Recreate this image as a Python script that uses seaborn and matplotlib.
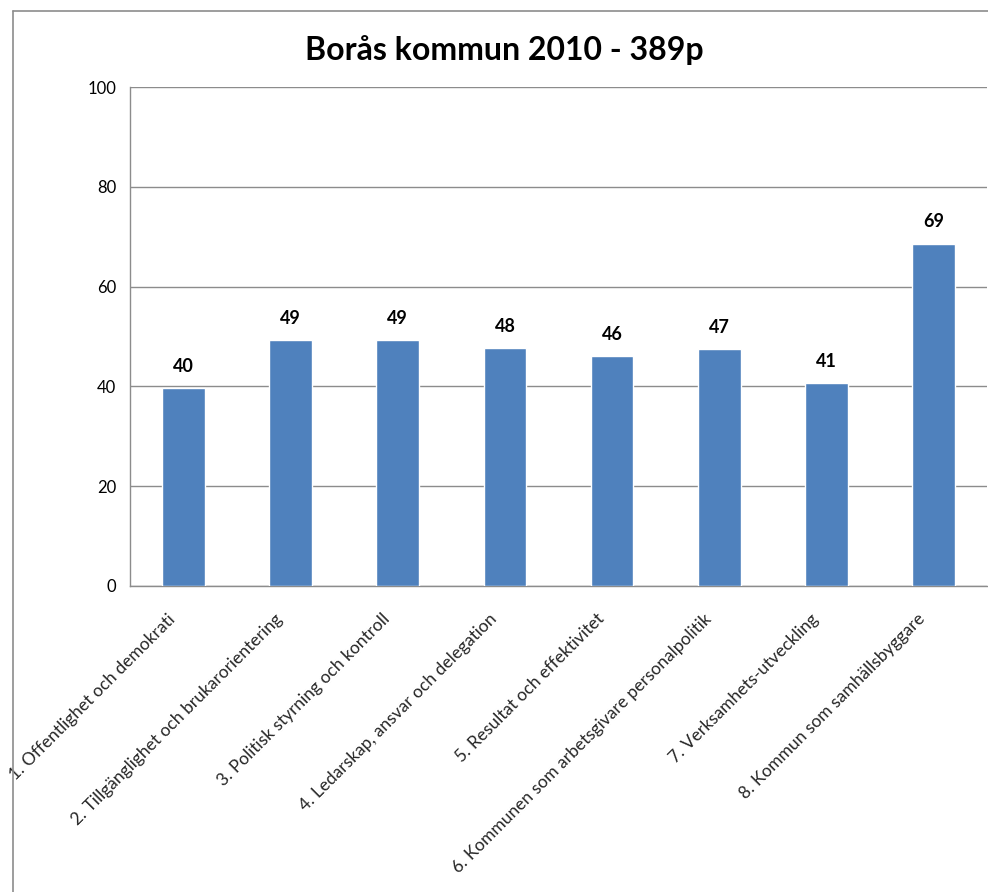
import matplotlib
matplotlib.use("Agg")
import matplotlib.pyplot as plt
import matplotlib.transforms as mtransforms
import seaborn as sns
import pandas as pd
from matplotlib.lines import Line2D

categories = [
    "1. Offentlighet och demokrati",
    "2. Tillgänglighet och brukarorientering",
    "3. Politisk styrning och kontroll",
    "4. Ledarskap, ansvar och delegation",
    "5. Resultat och effektivitet",
    "6. Kommunen som arbetsgivare personalpolitik",
    "7. Verksamhets-utveckling",
    "8. Kommun som samhällsbyggare",
]
values = [39.6, 49.2, 49.2, 47.6, 46.0, 47.4, 40.6, 68.6]
yticks = [0, 20, 40, 60, 80, 100]
title = "Borås kommun 2010 - 389p"

df = pd.DataFrame({"kategori": categories, "poang": values})

sns.set_theme(style="white")
plt.rcParams["font.family"] = ["Lato", "DejaVu Sans"]

fig = plt.figure(figsize=(9.88, 8.92), dpi=100)
ax = fig.add_axes([130 / 988, 306 / 892, 857 / 988, 499 / 892])

sns.barplot(data=df, x="kategori", y="poang", color="#4F81BD", width=0.4,
            saturation=1, ax=ax, zorder=3)

ax.set_ylim(0, 100)
ax.set_xlim(-0.5, len(categories) - 0.5)
ax.set_yticks(yticks)
ax.set_yticklabels([str(t) for t in yticks], fontsize=12, color="#000000")
ax.yaxis.grid(True, color="#8c8c8c", linewidth=1.0, zorder=0)
ax.set_axisbelow(True)
ax.set_xlabel("")
ax.set_ylabel("")

ax.set_xticks(range(len(categories)))
ax.set_xticklabels(categories, rotation=45, ha="right", fontsize=12.5,
                   rotation_mode="default")
ax.tick_params(axis="x", which="major", length=0, pad=18)
shift = mtransforms.ScaledTranslation(-0.05, 0, fig.dpi_scale_trans)
for lab in ax.get_xticklabels():
    lab.set_transform(lab.get_transform() + shift)
ax.set_xticks([i - 0.5 for i in range(len(categories) + 1)], minor=True)
ax.tick_params(axis="x", which="minor", length=6, color="#8c8c8c", width=1, direction="out")
ax.tick_params(axis="y", length=6, color="#8c8c8c", width=1, direction="out", pad=4)

for s in ["top", "right"]:
    ax.spines[s].set_visible(False)
for s in ["left", "bottom"]:
    ax.spines[s].set_color("#8c8c8c")
    ax.spines[s].set_linewidth(1.0)

for i, v in enumerate(values):
    ax.annotate(f"{v:.0f}", (i, v), xytext=(0, 10), textcoords="offset points",
                ha="center", va="bottom", fontsize=13, fontweight="bold", color="#000000")

fig.text(504 / 988, 1 - 50 / 892, title, ha="center", va="center",
         fontsize=23, fontweight="bold", color="#000000")

# outer chart border (left and top visible)
fig.add_artist(Line2D([13 / 988, 13 / 988], [0, 1 - 11 / 892], color="#8c8c8c", lw=1.2,
                      transform=fig.transFigure))
fig.add_artist(Line2D([13 / 988, 1], [1 - 11 / 892, 1 - 11 / 892], color="#8c8c8c", lw=1.2,
                      transform=fig.transFigure))

fig.savefig("out.png", dpi=100, facecolor="white")
